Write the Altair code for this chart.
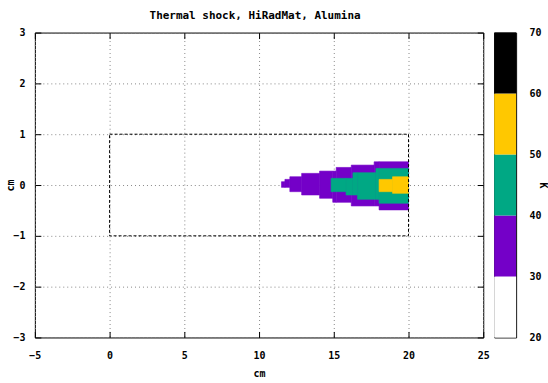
import altair as alt
import pandas as pd

FONT = "DejaVu Sans Mono"

title_text = "Thermal shock, HiRadMat, Alumina"
x_ticks = [-5, 0, 5, 10, 15, 20, 25]
y_ticks = [-3, -2, -1, 0, 1, 2, 3]
cb_ticks = [20, 30, 40, 50, 60, 70]

# colour bands (K)
band_lo = [20, 30, 40, 50, 60]
band_hi = [30, 40, 50, 60, 70]
band_colors = ["#ffffff", "#7400c8", "#00a884", "#ffc800", "#000000"]

# target outline (cm)
box_x = [0, 20]
box_y = [-1, 1]

# heated cells (cm), band temperature in K
purple_x0 = [11.50, 11.73, 12.06, 12.85, 14.05, 14.93, 15.16, 16.17, 17.70, 18.03]
purple_x1 = [11.73, 12.06, 12.85, 14.05, 14.93, 15.16, 16.17, 17.70, 18.03, 20.00]
purple_y0 = [-0.046, -0.046, -0.131, -0.196, -0.261, -0.340, -0.340, -0.412, -0.412, -0.490]
purple_y1 = [0.065, 0.111, 0.163, 0.229, 0.274, 0.274, 0.346, 0.392, 0.457, 0.457]
purple_T = 35

green_x0 = [14.82, 15.82, 16.28, 16.59, 17.82, 18.03]
green_x1 = [15.82, 16.28, 16.59, 17.82, 18.03, 20.00]
green_y0 = [-0.131, -0.196, -0.196, -0.281, -0.281, -0.359]
green_y1 = [0.131, 0.131, 0.242, 0.242, 0.327, 0.327]
green_T = 45

yellow_x0 = [18.03, 18.93]
yellow_x1 = [18.93, 20.00]
yellow_y0 = [-0.131, -0.163]
yellow_y1 = [0.111, 0.163]
yellow_T = 55

rows = []
for xs0, xs1, ys0, ys1, t in [
    (purple_x0, purple_x1, purple_y0, purple_y1, purple_T),
    (green_x0, green_x1, green_y0, green_y1, green_T),
    (yellow_x0, yellow_x1, yellow_y0, yellow_y1, yellow_T),
]:
    for a, b, c, d in zip(xs0, xs1, ys0, ys1):
        rows.append({"x0": a, "x1": b, "y0": c, "y1": d, "T": t})
cells_df = pd.DataFrame(rows)
cells_df["i"] = range(len(cells_df))

box_df = pd.DataFrame({"x0": [box_x[0]], "x1": [box_x[1]], "y0": [box_y[0]], "y1": [box_y[1]]})
bands_df = pd.DataFrame({"lo": band_lo, "hi": band_hi})
bands_df["mid"] = (bands_df["lo"] + bands_df["hi"]) / 2

xs = alt.Scale(domain=[-5, 25], nice=False, zero=False)
ys = alt.Scale(domain=[-3, 3], nice=False, zero=False)
cscale = alt.Scale(type="threshold", domain=[30, 40, 50, 60], range=band_colors)

lab = dict(labelFont=FONT, labelFontWeight="bold", labelFontSize=10, labelColor="black",
           titleFont=FONT, titleFontWeight="bold", titleFontSize=10, titleColor="black",
           tickColor="black", tickWidth=1, domain=False)

x_axis = alt.Axis(values=x_ticks, orient="bottom", offset=-6, tickSize=6, grid=True,
                  gridDash=[1, 3], gridColor="#888888", gridWidth=1, labelPadding=13,
                  labelFlush=False, title="cm", titlePadding=8, **lab)
y_axis = alt.Axis(values=y_ticks, orient="left", offset=-6, tickSize=6, grid=True,
                  gridDash=[1, 3], gridColor="#888888", gridWidth=1, labelPadding=10,
                  labelFlush=False, title="cm", titlePadding=-3, **lab)
x_top = alt.Axis(values=x_ticks, orient="top", offset=-6, tickSize=6, grid=False,
                 labels=False, title=None, **lab)
y_right = alt.Axis(values=y_ticks, orient="right", offset=-6, tickSize=6, grid=False,
                   labels=False, title=None, **lab)

cells = alt.Chart(cells_df).mark_rect(strokeWidth=0.6).encode(
    x=alt.X("x0:Q", scale=xs, axis=x_axis),
    x2="x1:Q",
    y=alt.Y("y0:Q", scale=ys, axis=y_axis),
    y2="y1:Q",
    color=alt.Color("T:Q", scale=cscale, legend=None),
    stroke=alt.Stroke("T:Q", scale=cscale, legend=None),
    order=alt.Order("i:Q"),
)

box = alt.Chart(box_df).mark_rect(fillOpacity=0, stroke="black", strokeDash=[3, 2],
                                  strokeWidth=1).encode(
    x=alt.X("x0:Q", scale=xs, axis=x_top),
    x2="x1:Q",
    y=alt.Y("y0:Q", scale=ys, axis=y_right),
    y2="y1:Q",
)

main = alt.layer(cells, box).properties(
    width=450, height=306,
    title=alt.TitleParams(title_text, font=FONT, fontWeight="bold", fontSize=11,
                          color="black", anchor="middle", offset=7, dx=-4),
)

cbar = alt.Chart(bands_df).mark_rect(strokeWidth=0).encode(
    x=alt.value(0), x2=alt.value(22),
    y=alt.Y("lo:Q", scale=alt.Scale(domain=[20, 70], nice=False, zero=False),
            axis=alt.Axis(values=cb_ticks, orient="right", tickSize=0, grid=False,
                          labelPadding=13, labelFlush=False, title="K", titleAngle=90,
                          titlePadding=-4, **lab)),
    y2="hi:Q",
    color=alt.Color("mid:Q", scale=cscale, legend=None),
).properties(width=22, height=306)

chart = alt.hconcat(main, cbar, spacing=11, bounds="flush").properties(
    padding={"left": 5, "top": 8, "right": 0, "bottom": 0},
    background="white",
).configure_view(stroke="black", strokeWidth=1).configure_concat(spacing=11)

chart.save("out.html", embed_options={"renderer": "svg", "actions": False})
